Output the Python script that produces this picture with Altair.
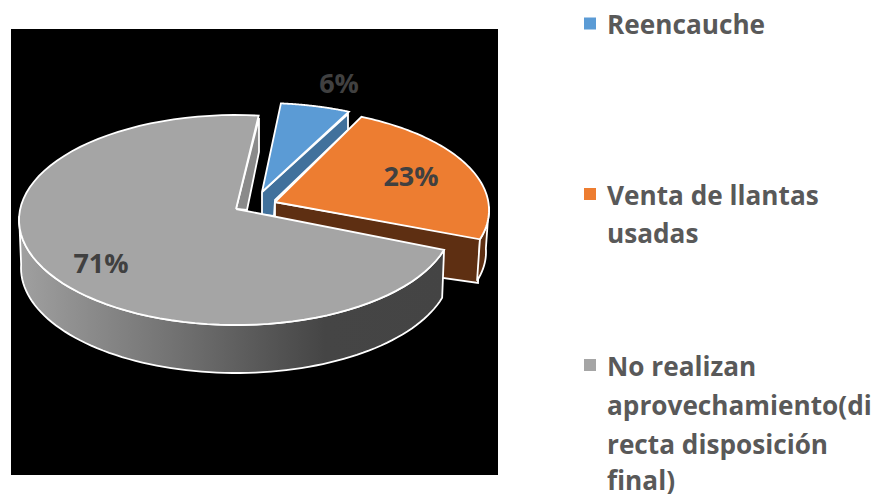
import math
import altair as alt
import pandas as pd

W, H = 864, 486
OFF = 8

categories = ["Reencauche", "Venta de llantas usadas", "No realizan aprovechamiento(directa disposición final)"]
shares = [6, 23, 71]
share_labels = ["6%", "23%", "71%"]
colors_top = ["#5B9BD5", "#ED7D31", "#A5A5A5"]
color_blue_face = "#41719C"
color_brown = "#5E2F12"
color_grey_face = "#8A8A8A"
label_color = "#404040"
legend_color = "#595959"

# clockwise angle (degrees from the top) where each slice starts and ends on the drawn ellipse
blue_angles = [5, 23.6]
orange_angles = [24, 106.7]
grey_angles = [106.5, 366]

# legend text, one entry per printed line
legend_lines = ["Reencauche", "Venta de llantas", "usadas", "No realizan", "aprovechamiento(di", "recta disposición", "final)"]
legend_line_y = [25.5, 197, 235, 367.5, 406.5, 446, 482]
legend_square_y = [23.5, 194, 365]
label_x = [339, 411, 101]
label_y = [85, 178, 265]


def arc(cx, cy, rx, ry, a0, a1, n=80):
    pts = []
    for i in range(n + 1):
        t = math.radians(a0 + (a1 - a0) * i / n)
        pts.append((cx + rx * math.sin(t), cy - ry * math.cos(t)))
    return pts


x_scale = alt.Scale(domain=[0, W], range=[0, W])
y_scale = alt.Scale(domain=[0, H], range=[0, H])


def poly(points, fill, stroke="white", sw=1.8):
    pts = list(points) + [points[0]]
    df = pd.DataFrame({
        "x": [p[0] - OFF for p in pts],
        "y": [p[1] - OFF for p in pts],
        "o": range(len(pts)),
    })
    return alt.Chart(df).mark_line(fill=fill, stroke=stroke, strokeWidth=sw, strokeJoin="miter", clip=False).encode(
        x=alt.X("x:Q", scale=x_scale, axis=None),
        y=alt.Y("y:Q", scale=y_scale, axis=None),
        order="o:Q",
    )


layers = []

# black panel
panel = pd.DataFrame({"x": [11 - OFF], "x2": [498 - OFF], "y": [29 - OFF], "y2": [475 - OFF]})
layers.append(alt.Chart(panel).mark_rect(color="black").encode(
    x=alt.X("x:Q", scale=x_scale, axis=None), x2="x2:Q",
    y=alt.Y("y:Q", scale=y_scale, axis=None), y2="y2:Q"))

# blue slice
layers.append(poly([(262, 192), (348, 114), (348, 130), (275, 200), (274, 216), (262, 215)], color_blue_face))
layers.append(poly([(262, 192)] + arc(262, 207, 217, 104, *blue_angles), colors_top[0]))

# orange slice
layers.append(poly([(275, 202), (480, 238), (478, 283), (275, 254)], color_brown))
layers.append(poly(arc(274, 210, 215, 102, 88, orange_angles[1]) + arc(274, 252, 212, 100, orange_angles[1], 88)[0:], color_brown))
layers.append(poly([(275, 202)] + arc(274, 210, 215, 102, *orange_angles), colors_top[1]))

# grey slice
layers.append(poly([(259, 118), (259, 152), (247, 210), (236, 209)], color_grey_face))
wall = alt.Gradient(gradient="linear", x1=0, x2=1, y1=0, y2=0, stops=[
    alt.GradientStop(offset=0, color="#A0A0A0"),
    alt.GradientStop(offset=0.72, color="#454545"),
    alt.GradientStop(offset=1, color="#444444"),
])
layers.append(poly(arc(236, 220, 217, 105, grey_angles[0], 272) + arc(236, 268, 215, 105, 272, grey_angles[0]), wall))
layers.append(poly([(236, 209)] + arc(236, 220, 217, 105, *grey_angles), colors_top[2]))

# slice labels
labels = pd.DataFrame({"x": [v - OFF for v in label_x], "y": [v - OFF for v in label_y], "t": share_labels})
layers.append(alt.Chart(labels).mark_text(font="Open Sans", fontWeight="bold", fontSize=27, color=label_color, baseline="middle", align="center").encode(
    x=alt.X("x:Q", scale=x_scale, axis=None), y=alt.Y("y:Q", scale=y_scale, axis=None), text="t:N"))

# legend
squares = pd.DataFrame({"x": [590 - OFF] * 3, "y": [v - OFF for v in legend_square_y], "c": colors_top})
layers.append(alt.Chart(squares).mark_square(size=144, opacity=1, filled=True).encode(
    x=alt.X("x:Q", scale=x_scale, axis=None), y=alt.Y("y:Q", scale=y_scale, axis=None),
    color=alt.Color("c:N", scale=None)))
leg = pd.DataFrame({"x": [607 - OFF] * len(legend_lines), "y": [v - OFF for v in legend_line_y], "t": legend_lines})
layers.append(alt.Chart(leg).mark_text(font="Open Sans", fontWeight="bold", fontSize=26.2, color=legend_color, baseline="middle", align="left").encode(
    x=alt.X("x:Q", scale=x_scale, axis=None), y=alt.Y("y:Q", scale=y_scale, axis=None), text="t:N"))

chart = alt.layer(*layers).properties(
    width=W, height=H, padding=0, autosize=alt.AutoSizeParams(type="none"), background="white"
).configure_view(stroke=None)

chart.save("out.html", embed_options={"renderer": "svg", "actions": False})
